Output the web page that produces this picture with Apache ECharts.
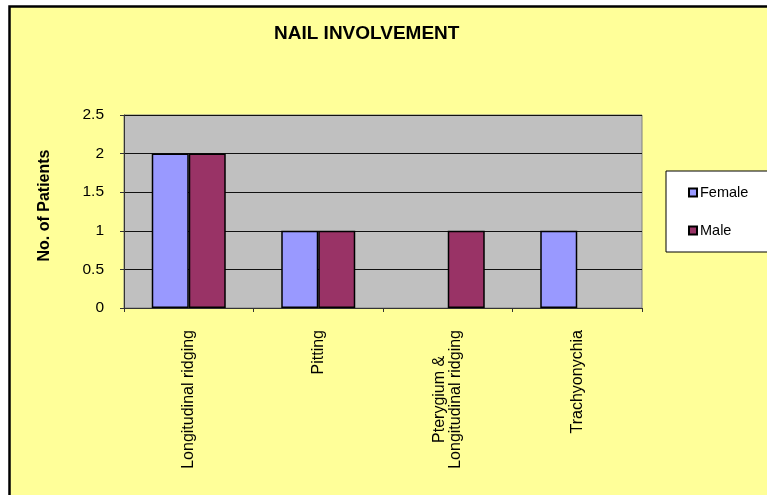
<!DOCTYPE html>
<html>
<head>
<meta charset="utf-8">
<script src="https://cdn.jsdelivr.net/npm/echarts@6/dist/echarts.min.js"></script>
<style>
html,body{margin:0;padding:0;background:#fff;}
#chart{width:767px;height:495px;}
</style>
</head>
<body>
<div id="chart"></div>
<script>
const categories = ['Longitudinal ridging', 'Pitting', 'Pterygium &\nLongitudinal ridging', 'Trachyonychia'];
const femaleValues = [2, 1, 0, 1];
const maleValues = [2, 1, 1, 0];
const yTicks = { min: 0, max: 2.5, interval: 0.5 };

const FONT = '"Liberation Sans", Arial, sans-serif';
// zero-count bars are not drawn in the original chart
const hideZero = arr => arr.map(v => (v === 0 ? '-' : v));

const chart = echarts.init(document.getElementById('chart'));
chart.setOption({
  backgroundColor: '#ffffff',
  animation: false,
  graphic: [{
    type: 'rect', z: -100, silent: true,
    shape: { x: 9.5, y: 6.5, width: 900, height: 700 },
    style: { fill: '#FFFF99', stroke: '#000', lineWidth: 2.5 }
  }],
  title: {
    text: 'NAIL INVOLVEMENT', left: 269, top: 19,
    textStyle: { fontFamily: FONT, fontSize: 19, fontWeight: 'bold', color: '#000' }
  },
  legend: {
    orient: 'vertical', left: 666, top: 171,
    padding: [14, 60, 14, 22],
    backgroundColor: '#fff', borderColor: '#000', borderWidth: 1,
    itemWidth: 8, itemHeight: 8, itemGap: 23,
    icon: 'rect',
    textStyle: { fontFamily: FONT, fontSize: 14.5, color: '#000', padding: [0,0,0,-2] },
    data: ['Female', 'Male']
  },
  grid: {
    left: 124, right: 125, top: 115, bottom: 187,
    show: true, backgroundColor: '#C0C0C0', borderColor: '#808080', borderWidth: 1
  },
  xAxis: {
    type: 'category', data: categories,
    axisLine: { lineStyle: { color: '#333', width: 1 } },
    axisTick: { show: true, length: 4, lineStyle: { color: '#333' } },
    axisLabel: {
      interval: 0, rotate: 90, margin: 22, color: '#000',
      fontFamily: FONT, fontSize: 16,
      formatter: v => v.split('\n').map(l => '{c|' + l + '}').join('\n'),
      rich: { c: { align: 'center', fontFamily: FONT, fontSize: 16, color: '#000' } }
    }
  },
  yAxis: {
    type: 'value', min: yTicks.min, max: yTicks.max, interval: yTicks.interval,
    name: 'No. of Patients', nameLocation: 'middle', nameRotate: 90, nameGap: 71,
    nameTextStyle: { fontFamily: FONT, fontSize: 16, fontWeight: 'bold', color: '#000', padding: [0, 0, 0, 12] },
    axisLine: { show: true, lineStyle: { color: '#333', width: 1 } },
    axisTick: { show: true, length: 4, lineStyle: { color: '#333' } },
    axisLabel: { margin: 20, color: '#000', fontFamily: FONT, fontSize: 15.5 },
    splitLine: { show: true, lineStyle: { color: '#111', width: 1 } }
  },
  series: [
    { name: 'Female', type: 'bar', data: hideZero(femaleValues), barWidth: 37, barGap: '0%',
      itemStyle: { color: '#9999FF', borderColor: '#000', borderWidth: 1.5 } },
    { name: 'Male', type: 'bar', data: hideZero(maleValues), barWidth: 37, barGap: '0%',
      itemStyle: { color: '#993366', borderColor: '#000', borderWidth: 1.5 } }
  ]
});
</script>
</body>
</html>
